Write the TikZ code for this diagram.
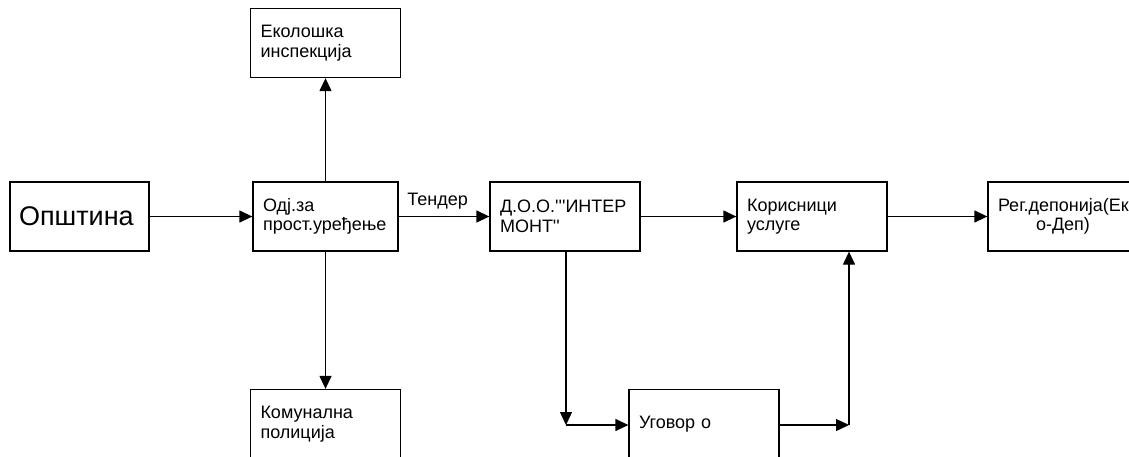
\documentclass[tikz,border=0pt]{standalone}
\usepackage{fontspec}
\newfontfamily\arialfont{Liberation Sans}
\usetikzlibrary{arrows.meta}

\begin{document}
\begin{tikzpicture}[x=1pt,y=-1pt]
	\tikzset{box/.style={draw,line width=1.3pt,text width=130pt,inner xsep=10pt,minimum height=69pt,align=left,font=\arialfont\fontsize{18}{19.5}\selectfont}}
	\tikzset{arr/.style={line width=1.3pt,-{Triangle[length=13pt,width=12pt]}}}
	\useasboundingbox (0,0) rectangle (1129,456);
	\clip (0,0) rectangle (1129,456);
	\node[box,text width=121pt,inner xsep=9pt,font=\arialfont\fontsize{27}{30}\selectfont] (opstina) at (79.5,216.5) {Општина};
	\node[box,text width=125pt] (odj) at (325.5,216.5) {Одј.за\\прост.уређење};
	\node[box] (ekolog) at (325.5,43) {Еколошка\\инспекција};
	\node[box] (komunal) at (325.5,424) {Комунална\\полиција};
	\node[box] (intermont) at (565,216.5) {Д.О.О.'''ИНТЕР\\МОНТ''};
	\node[box] (korisnici) at (812,216.5) {Корисници\\услуге};
	\node[box,align=center] (regdep) at (1063,216.5) {Рег.депонија(Ек\\о-Деп)};
	\node[box] (ugovor) at (704,424) {Уговор о};
	\coordinate (c1) at (566,425);
	\coordinate (c2) at (849,425);
	\draw[arr] (opstina) -- (odj);
	\draw[arr] (odj) -- node[above=3pt,pos=0.43,font=\arialfont\fontsize{18}{19.5}\selectfont] (tender) {Тендер} (intermont);
	\draw[arr] (odj) -- (ekolog);
	\draw[arr] (odj) -- (komunal);
	\draw[arr] (intermont) -- (korisnici);
	\draw[arr] (korisnici) -- (regdep);
	\draw[arr] (intermont.south -| c1) -- (c1);
	\draw[arr] (c1) -- (ugovor.west |- c1);
	\draw[arr] (ugovor.east |- c2) -- (c2);
	\draw[arr] (c2) -- (korisnici.south -| c2);
\end{tikzpicture}
\end{document}
